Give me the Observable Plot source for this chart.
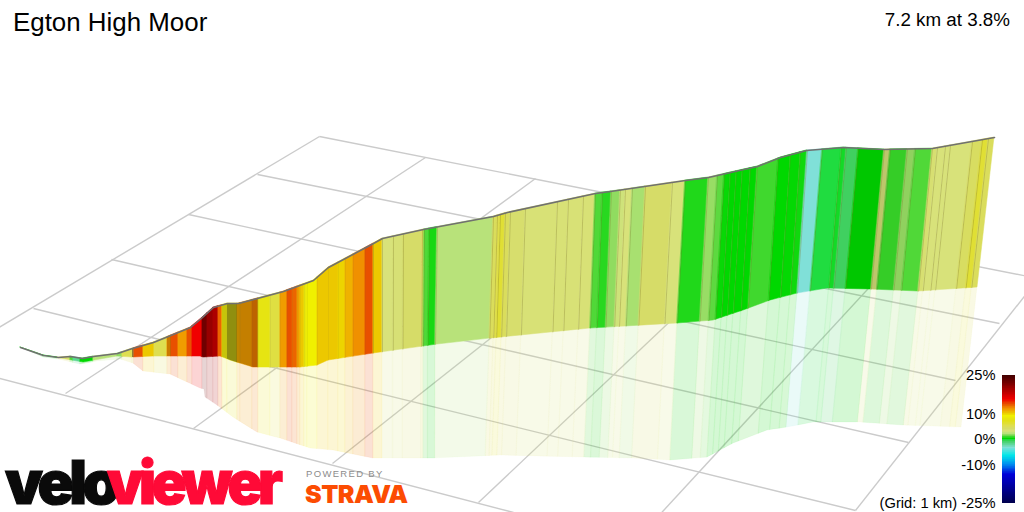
<!DOCTYPE html>
<html><head><meta charset="utf-8">
<script src="https://cdn.jsdelivr.net/npm/d3@7"></script>
<script src="https://cdn.jsdelivr.net/npm/@observablehq/plot@0.6"></script>
<style>
html,body{margin:0;padding:0;background:#fff}
#root{position:relative;width:1024px;height:512px;overflow:hidden;font-family:"Liberation Sans",sans-serif;color:#000}
#root svg{display:block;position:absolute;background:transparent}
.t{position:absolute;white-space:nowrap;line-height:1}
</style></head><body><div id="root"></div>
<script>
const titleText = "Egton High Moor";
const summaryText = "7.2 km at 3.8%";

// Gradient colour ramp (percent -> colour)
const gradeStops = [-25,-14,-10,-6.5,-3.5,-1,-0.5,0,0.5,1,1.5,2,3,4,5,7,9,10,11,12,13.5,15.5,18,22,25];
const gradeColors = ["#000050","#0000d8","#0090f0","#00e8e8","#80e0d8","#40d060","#20dc40","#00d800","#28d820","#50d838","#90dc60","#b8e27a","#d8e27a","#d6dc68","#dede50","#e2e018","#f0f000","#ecc800","#f0a800","#f09000","#e85000","#f00000","#c00000","#700000","#400000"];
const legendTicks = [25,10,0,-10,-25];

// Stripe edges along the road (screen units of the top edge) and gradient of each stripe
const stripeEdge = [20,43,57,70,73,80,93,117,122,132,133.5,143,154,167,171,178,187,192,202,207,213,218,222,227,237,240,252,258,270,280,287,292,297,300,304,307,317,328,338,345,353,365,373,382,393,403,422,424,429,437,493,497,500,505,510,525,557,568,583,595,602,611,620,625,632,645,672,685,708,717,724,730,736,742,750,757,778,790,800,807,822,841,846,858,884,890,907,915,932,937,945,950,972,982,988,994];
const stripeGrade = [0,0,4,1,-2,0,2,1.5,5,4,13.5,10,5,12,13.5,11.5,13.5,15.5,22,20,19,13,8,7,11,11.5,12.5,7.5,5.5,11.5,13.5,13,11.5,10,8,9,10,10,9.7,10.7,12,13.5,10,3,3.3,4,4.5,1,0.3,2,4.5,5,6,4.5,3.7,3.2,3.2,3.2,3.2,1,0.5,1.5,2.7,3,1.8,4,3,0.4,1.6,1.1,0.1,0,0,0,0,0.8,0,0.05,0.2,-3.5,-0.5,-0.3,-1,0,3,0.7,1.6,1,3.5,3,3,3,4.3,6,4.5];
// Stripes lit less by the 3D view: start edge and darkening
const shadedStart = [132,167,222,227,237,240,252,858,884,890,907];
const shadedDepth = [0.35,0.15,0.15,0.36,0.2,0.18,0.2,0.08,0.12,0.05,0.05];

// Outlines of the ribbon
const topX = [20,43,58,70,82,93,117,132,153,190,202,213,227,238,283,313,328,373,382,423,493,507,595,610,685,708,730,757,780,806,843,883,932,994];
const topY = [347,355,357,356,358,356,353,348,342,327,317,307,303,303,291,280,267,243,238,229,216,212,193,191,180,177,172,166,157,150,147,149,148,137];
const baseX = [20,43,83,117,132,153,200,203,220,230,253,300,317,328,373,437,490,590,677,713,743,770,797,827,870,918,977];
const baseY = [347,355,362,356,357,356,356,357,356,360,367,367,365,360,353,344,338,328,323,320,310,300,293,288,289,291,287];
const shadowX = [20,43,58,80,97,120,133,143,170,200,204,205,217,233,257,280,310,333,373,433,500,583,633,670,707,733,767,787,813,860,903,961];
const shadowY = [347,357,359,364,361,359,363,371,374,388,389,397,405,417,432,438,448,450,458,458,455,457,458,460,457,443,430,427,422,422,425,427];
// How a stripe edge shifts from the top of the ribbon to its foot, then to its reflection
const edgeTop = [20,132,204,373,382,424,437,493,595,685,807,822,932,994];
const edgeBase = [20,132,204,373,382,423,435,489.3,590,677,797,810,918,977];
const footBase = [20,373,430,490,590,677,797,810,977];
const footShadow = [20,373,430,486,584,670,786,798,961];

// Ground grid (1 km squares)
const gridX1 = [319,257,188,111,33,-20,319,425,535,660,771,902,1038];
const gridY1 = [136,174,214,259,308,373,136,157,178,203,225,251,278];
const gridX2 = [1038,999,955,908,855,513,-20,65,193,332,478,640,855];
const gridY2 = [278,323,380,442,510,512,338,393,428,463,502,535,510];

const topAt = d3.scaleLinear(topX, topY);
const baseAt = d3.scaleLinear(baseX, baseY);
const shadowAt = d3.scaleLinear(shadowX, shadowY);
const edgeToBase = d3.scaleLinear(edgeTop, edgeBase);
const baseToShadow = d3.scaleLinear(footBase, footShadow);
const baseToEdge = d3.scaleLinear(edgeBase, edgeTop);
const shadowToEdge = t => baseToEdge(baseToShadow.invert(t));

const bends = [...topX, ...baseX.map(baseToEdge), ...shadowX.map(shadowToEdge)];
const rows = [];
stripeGrade.forEach((grade, s) => {
  const a = stripeEdge[s], b = stripeEdge[s + 1];
  const ts = [a, ...bends.filter(t => t > a && t < b).sort(d3.ascending), b];
  const si = shadedStart.indexOf(a);
  for (const t of ts) {
    const bx = edgeToBase(t), sx = baseToShadow(bx);
    rows.push({s, grade, shade: si < 0 ? 0 : shadedDepth[si],
      tx: t, ty: topAt(t), bx, by: baseAt(bx), sx, sy: shadowAt(sx)});
  }
});
const dividers = stripeEdge.filter(t => t >= 240 && t < 994).map(t => {
  const bx = edgeToBase(t);
  return {tx: t, ty: topAt(t), bx, by: baseAt(bx), o: t < 373 ? 0.1 : 0.32};
});
const road = topX.map((x, i) => ({x, y: topY[i]}));
const grid = gridX1.map((x, i) => ({x1: x, y1: gridY1[i], x2: gridX2[i], y2: gridY2[i]}));
const colorScale = {type: "linear", domain: gradeStops, range: gradeColors, clamp: true};

const main = Plot.plot({
  width: 1024, height: 512, margin: 0,
  x: {domain: [0, 1024], range: [0, 1024], axis: null},
  y: {domain: [512, 0], range: [512, 0], axis: null},
  color: colorScale,
  opacity: {type: "identity"},
  style: {background: "transparent"},
  marks: [
    Plot.link(grid, {x1: "x1", y1: "y1", x2: "x2", y2: "y2", stroke: "#cbcbcb", strokeWidth: 1.4}),
    Plot.area(rows, {x1: "bx", y1: "by", x2: "sx", y2: "sy", z: "s", fill: "grade", fillOpacity: 0.17, stroke: "grade", strokeOpacity: 0.09, strokeWidth: 0.6, curve: "linear"}),
    Plot.area(rows, {x1: "tx", y1: "ty", x2: "bx", y2: "by", z: "s", fill: "grade", stroke: "grade", strokeWidth: 0.5, curve: "linear"}),
    Plot.area(rows.filter(d => d.shade > 0), {x1: "tx", y1: "ty", x2: "bx", y2: "by", z: "s", fill: "#000", fillOpacity: "shade", curve: "linear"}),
    Plot.link(dividers, {x1: "tx", y1: "ty", x2: "bx", y2: "by", stroke: "#80782c", strokeOpacity: "o", strokeWidth: 1}),
    Plot.line(road, {x: "x", y: "y", stroke: "#707070", strokeWidth: 1.6, curve: "linear"})
  ]
});
main.style.left = "0"; main.style.top = "0";

const legendSteps = d3.range(-25, 25, 0.25);
const legend = Plot.plot({
  width: 164, height: 152,
  marginTop: 15, marginBottom: 9.3, marginLeft: 142, marginRight: 9,
  y: {domain: [-25, 25]},
  color: colorScale,
  style: {background: "transparent", fontFamily: "Liberation Sans", fontSize: "14.7px", color: "#000"},
  marks: [
    Plot.rect(legendSteps, {y1: d => d, y2: d => d + 0.25, fill: d => d, inset: 0, shapeRendering: "crispEdges"}),
    Plot.axisY(legendTicks, {label: null, tickSize: 0, tickPadding: 7, fontSize: 14.7, fill: "#000",
      tickFormat: d => d === -25 ? "(Grid: 1 km) -25%" : d + "%"})
  ]
});
legend.style.left = "860px"; legend.style.top = "360px"; legend.style.overflow = "visible";

const root = document.getElementById("root");
root.append(main, legend);
function label(text, css) {
  const e = document.createElement("div");
  e.className = "t"; e.textContent = text; e.style.cssText += css;
  root.append(e); return e;
}
label(titleText, "left:13px;top:10px;font-size:25.9px;");
label(summaryText, "right:14px;top:11px;font-size:18.8px;");
const logo = "font-family:Inter;font-weight:900;font-size:40px;letter-spacing:-0.075em;line-height:normal;transform-origin:0 0;top:445px;-webkit-text-stroke:.8px;";
label("velo", logo + "left:5px;color:#0a0a0a;transform:scale(1.5,1.5);");
label("viewer", logo + "left:107px;color:#ff0a37;transform:scale(1.44,1.5);");
label("POWERED BY", "left:306px;top:469px;font-size:9.5px;letter-spacing:.14em;color:#8c8c8c;");
label("STRAVA", "left:305px;top:482px;font-family:Inter;font-weight:900;font-size:25px;color:#fc4c02;letter-spacing:-.02em;");
</script></body></html>
